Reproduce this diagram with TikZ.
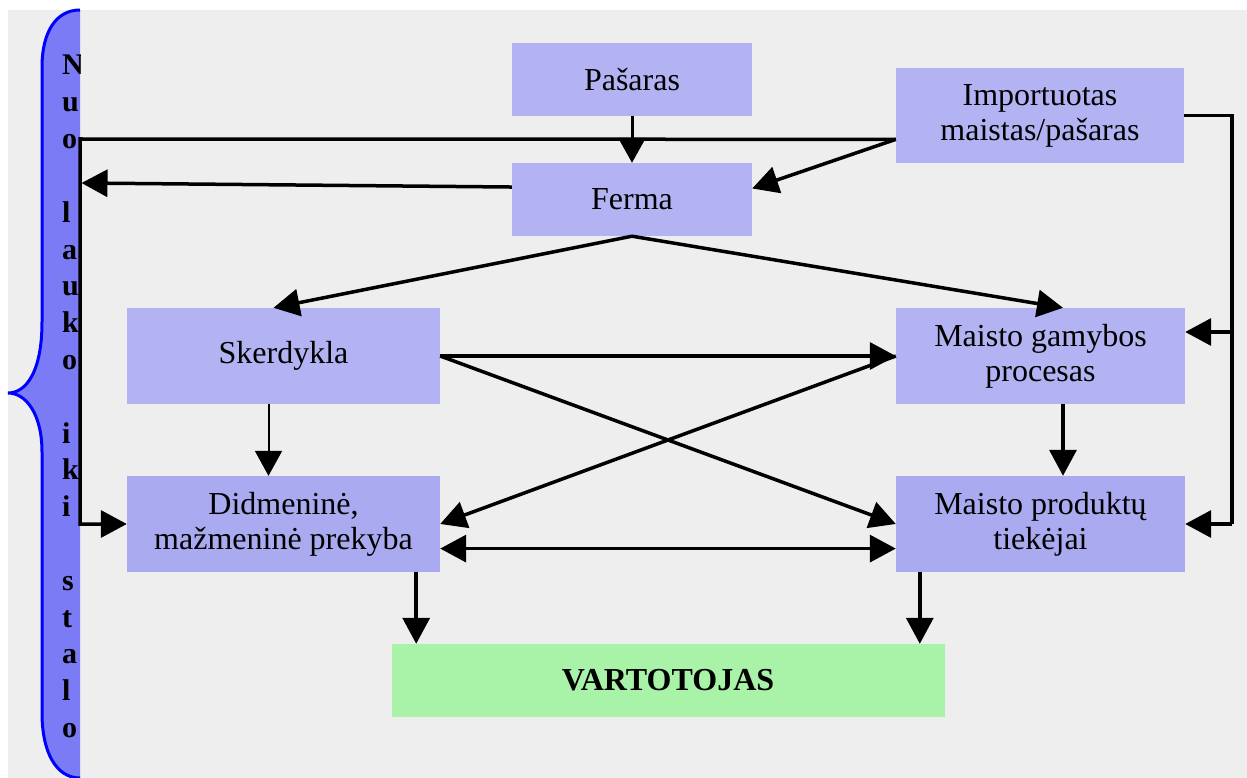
\documentclass[tikz,border=0pt]{standalone}
\usepackage{fontspec}
\setmainfont{Liberation Serif}
\usetikzlibrary{arrows.meta,calc}

\definecolor{bggray}{HTML}{EEEEEE}
\definecolor{boxlight}{HTML}{B3B3F3}
\definecolor{boxdark}{HTML}{AAAAF0}
\definecolor{consumer}{HTML}{A8F3A8}
\definecolor{bracefill}{HTML}{7B7BF6}
\definecolor{braceline}{HTML}{0000FF}

\tikzset{
  stage/.style={rectangle, fill=boxlight, inner sep=0pt, align=center,
    font=\fontsize{32}{35}\selectfont},
  stagedark/.style={stage, fill=boxdark},
  flow/.style={line width=3.5pt, -{Triangle[length=26pt,width=27pt]}},
  thinflow/.style={line width=2pt, -{Triangle[length=25pt,width=27pt]}},
  link/.style={line width=3.5pt},
  bracelet/.style={anchor=base west, inner sep=0pt,
    font=\fontsize{30}{30}\bfseries\selectfont},
}

\begin{document}
\begin{tikzpicture}[x=1pt,y=-1pt]
  % page frame and grey panel
  \useasboundingbox (0,0) rectangle (1247,778);
  \fill[bggray] (8,10) rectangle (1247,778);

  % side brace
  \def\bracepath{(80,10) .. controls (56,10) and (42,32) .. (42,67)
    -- (42,322) .. controls (42,372) and (26,393) .. (8,393)
    .. controls (26,393) and (42,414) .. (42,452)
    -- (42,713) .. controls (42,752) and (56,778) .. (80,778)}
  \fill[bracefill] \bracepath -- cycle;
  \draw[braceline, line width=3pt] \bracepath;
  \begin{scope}
    \clip \bracepath -- cycle;
    \foreach \c/\i in {N/0,u/1,o/2,l/4,a/5,u/6,k/7,o/8,i/10,k/11,i/12,s/14,t/15,a/16,l/17,o/18}
      \node[bracelet] (side\i) at (62,75+36.8*\i) {\c};
  \end{scope}

  % stages
  \node[stage, minimum width=240pt, minimum height=73pt] (pas) at (632,79.5) {Pašaras};
  \node[stage, minimum width=240pt, minimum height=73pt] (fer) at (632,199.5) {Ferma};
  \node[stage, minimum width=288pt, minimum height=95pt] (imp) at (1040,115.5) {Importuotas\\maistas/pašaras};
  \node[stage, minimum width=313pt, minimum height=96pt] (skr) at (283.5,356) {Skerdykla};
  \node[stage, minimum width=289pt, minimum height=96pt] (mg) at (1040.5,356) {Maisto gamybos\\procesas};
  \node[stagedark, minimum width=313pt, minimum height=96pt] (did) at (283.5,524) {Didmeninė,\\mažmeninė prekyba};
  \node[stagedark, minimum width=289pt, minimum height=96pt] (mp) at (1040.5,524) {Maisto produktų\\tiekėjai};
  \node[rectangle, fill=consumer, inner sep=0pt, minimum width=553pt, minimum height=73pt,
    font=\fontsize{32}{35}\bfseries\selectfont] (var) at (668,680.5) {VARTOTOJAS};

  % helper points
  \coordinate (impW) at ($(imp.north west)!0.75!(imp.south west)$);
  \coordinate (ferE) at ($(fer.north east)!0.35!(fer.south east)$);
  \coordinate (ferW) at ($(fer.north west)!0.33!(fer.south west)$);
  \coordinate (leftTop) at (80,139);
  \coordinate (leftHit) at (81.5,183);
  \coordinate (rightTop) at (1232,115.5);
  \coordinate (didE) at ($(did.north east)!0.755!(did.south east)$);
  \coordinate (mpW) at ($(mp.north west)!0.755!(mp.south west)$);
  \coordinate (mgE) at ($(mg.east)+(0,-24)$);
  \coordinate (skrN) at ($(skr.north)+(-10,0)$);
  \coordinate (mgN) at ($(mg.north)+(22.5,0)$);
  \coordinate (skrS) at ($(skr.south)+(-15,0)$);
  \coordinate (didN) at ($(did.north)+(-15,0)$);
  \coordinate (mgS) at ($(mg.south)+(22.5,0)$);
  \coordinate (mpN) at ($(mp.north)+(22.5,0)$);
  \coordinate (didS) at ($(did.south east)+(-24,0)$);
  \coordinate (mpS) at ($(mp.south west)+(24,0)$);

  % feed and farm
  \draw[thinflow, line width=3pt] (pas.south) -- (fer.north);
  \draw[flow] (impW) -- (ferE);
  \draw[flow] (impW) -- (leftTop) |- (did.west);
  \draw[flow] (ferW) -- (leftHit);
  \draw[flow] (fer.south) -- (skrN);
  \draw[flow] (fer.south) -- (mgN);

  % processing and trade
  \draw[flow] (skr.east) -- (mg.west);
  \draw[flow] (skr.east) -- (mp.west);
  \draw[flow] (mg.west) -- (did.east);
  \draw[flow, {Triangle[length=26pt,width=27pt]}-{Triangle[length=26pt,width=27pt]}] (didE) -- (mpW);
  \draw[thinflow] (skrS) -- (didN);
  \draw[flow] (mgS) -- (mpN);

  % imports into processing and supply
  \draw[link] (imp.east) -- (rightTop) -- (rightTop |- mp.east);
  \draw[flow] (rightTop |- mgE) -- (mgE);
  \draw[flow] (rightTop |- mp.east) -- (mp.east);

  % to the consumer
  \draw[flow] (didS) -- (didS |- var.north);
  \draw[flow] (mpS) -- (mpS |- var.north);
\end{tikzpicture}
\end{document}
